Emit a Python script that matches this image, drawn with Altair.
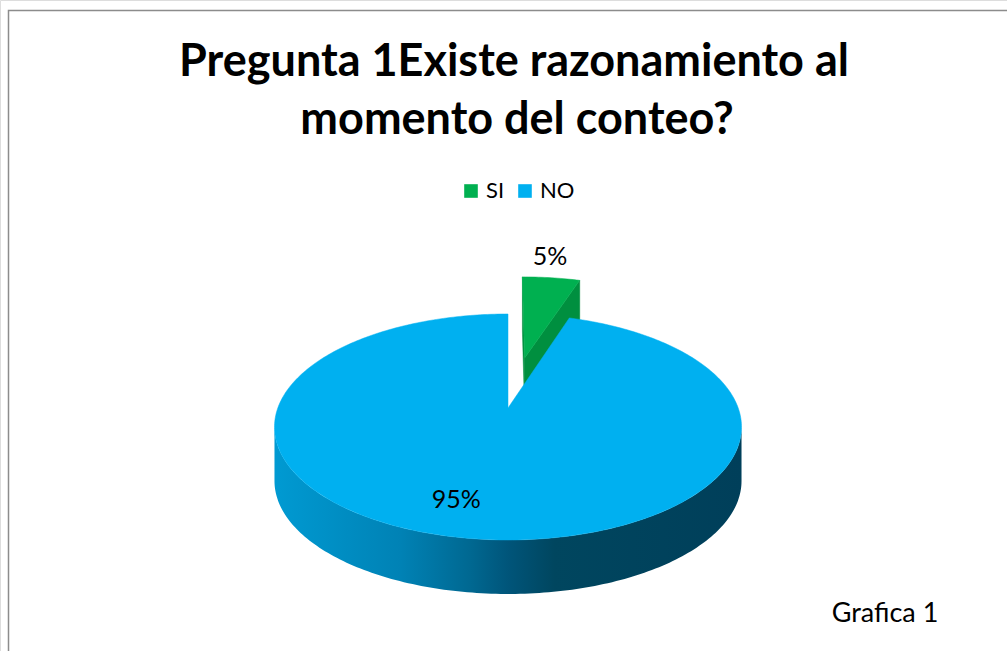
import numpy as np
import pandas as pd
import altair as alt

# ---------------- data ----------------
categories = ["SI", "NO"]
values = [5, 95]
labels = ["5%", "95%"]
top_colors = ["#00B050", "#00B0F0"]
cut_colors = ["#008F3F", "#0088C0"]
explode = [0.5, 0.0]
label_radius = [1.3, 0.76]
label_shift = [-2.0, 6.0]

title_lines = ["Pregunta 1Existe razonamiento al", "momento del conteo?"]
caption = "Grafica 1"

# ---------------- layout ----------------
W, H = 1007, 651
CX, CY = 508, 408          # pie centre in the picture
A, B = 230.2, 109.8        # px per unit (x / y)
K = 0.168                  # perspective strength
DEPTH = 54 / B             # pie thickness in y units
FONT = "Lato"


def proj(u, v):
    w = 1 + K * v
    return u / w, v / w


total = float(sum(values))
starts = np.concatenate([[0.0], np.cumsum(values)[:-1]]) / total * 360.0
ends = np.cumsum(values) / total * 360.0
cam = np.array([0.0, -1.0 / K])
vis_lo = 90 + np.degrees(np.arcsin(K))
vis_hi = 270 - np.degrees(np.arcsin(K))

top_rows, cut_rows, rim_rows, lab_rows = [], [], [], []
for cat, s, e, ex, tc, cc, lab, lr, ls in zip(categories, starts, ends, explode,
                                                top_colors, cut_colors, labels,
                                                label_radius, label_shift):
    mid = np.radians((s + e) / 2)
    ou, ov = ex * np.sin(mid), ex * np.cos(mid)
    # top face
    n = max(int(round(e - s)), 2)
    pts = [(ou, ov)] + [(ou + np.sin(np.radians(t)), ov + np.cos(np.radians(t)))
                        for t in np.linspace(s, e, n + 1)] + [(ou, ov)]
    for i, (u, v) in enumerate(pts):
        px, py = proj(u, v)
        top_rows.append(dict(cat=cat, i=i, px=px, py=py))
    # cut faces
    for ang, sign in ((s, -1), (e, 1)):
        r = np.radians(ang)
        nrm = sign * np.array([np.cos(r), -np.sin(r)])
        if np.dot(cam - np.array([ou, ov]), nrm) > 1e-6:
            face = f"{cat}-{ang:.0f}"
            rx, ry = proj(ou + np.sin(r), ov + np.cos(r))
            vx, vy = proj(ou, ov)
            poly = [(vx, vy), (rx, ry), (rx, ry - DEPTH), (vx, vy - DEPTH), (vx, vy)]
            for i, (px, py) in enumerate(poly):
                cut_rows.append(dict(face=face, col=cc, i=i, px=px, py=py))
    # outer rim (visible part)
    lo, hi = max(s, vis_lo), min(e, vis_hi)
    if hi > lo:
        ang = np.linspace(lo, hi, int(hi - lo) + 2)
        top = [proj(ou + np.sin(np.radians(t)), ov + np.cos(np.radians(t))) for t in ang]
        poly = top + [(x, y - DEPTH) for x, y in reversed(top)] + [top[0]]
        for i, (px, py) in enumerate(poly):
            rim_rows.append(dict(face=cat, i=i, px=px, py=py))
    # label
    la = np.radians((s + e) / 2 + ls)
    lx, ly = proj(ou + lr * np.sin(la), ov + lr * np.cos(la))
    lab_rows.append(dict(label=lab, lx=lx, ly=ly))

top_df = pd.DataFrame(top_rows)
cut_df = pd.DataFrame(cut_rows)
rim_df = pd.DataFrame(rim_rows)
lab_df = pd.DataFrame(lab_rows)

xs = alt.Scale(domain=[-CX / A, (W - CX) / A], nice=False, zero=False)
ys = alt.Scale(domain=[(CY - H) / B, CY / B], nice=False, zero=False)
X = alt.X("px:Q", scale=xs, axis=None)
Y = alt.Y("py:Q", scale=ys, axis=None)

frame = alt.Chart(pd.DataFrame({"a": [0]})).mark_rect(
    fill="white", stroke="#8C8C8C", strokeWidth=1.5
).encode(x=alt.value(8.5), x2=alt.value(1015), y=alt.value(10.5), y2=alt.value(665))

cuts = alt.Chart(cut_df).mark_line(strokeWidth=0.5).encode(
    x=X, y=Y, order=alt.Order("i:Q"), detail="face:N",
    fill=alt.Fill("col:N", scale=None), stroke=alt.Stroke("col:N", scale=None),
)

side_gradient = alt.Gradient(
    gradient="linear", x1=0, x2=1, y1=0, y2=0,
    stops=[
        alt.GradientStop(color="#009AD2", offset=0),
        alt.GradientStop(color="#0082B5", offset=0.27),
        alt.GradientStop(color="#006891", offset=0.42),
        alt.GradientStop(color="#00557A", offset=0.5),
        alt.GradientStop(color="#00465F", offset=0.6),
        alt.GradientStop(color="#003F5A", offset=1),
    ],
)
rims = alt.Chart(rim_df).mark_line(fill=side_gradient, strokeWidth=0).encode(
    x=X, y=Y, order=alt.Order("i:Q"), detail="face:N"
)

tops = alt.Chart(top_df).mark_line(strokeWidth=0.5).encode(
    x=X, y=Y, order=alt.Order("i:Q"),
    fill=alt.Fill("cat:N", scale=alt.Scale(domain=categories, range=top_colors),
                  legend=alt.Legend(title=None, orient="none", legendX=460, legendY=180,
                                    direction="horizontal", symbolType="square",
                                    symbolSize=185, symbolStrokeWidth=0,
                                    labelFont=FONT, labelFontSize=22, labelColor="black",
                                    labelOffset=4, columnPadding=9)),
    stroke=alt.Stroke("cat:N", scale=alt.Scale(domain=categories, range=top_colors), legend=None),
)

pct = alt.Chart(lab_df).mark_text(font=FONT, fontSize=25, color="black", baseline="middle").encode(
    x=alt.X("lx:Q", scale=xs, axis=None), y=alt.Y("ly:Q", scale=ys, axis=None), text="label:N"
)

t1 = alt.Chart(pd.DataFrame({"t": [title_lines[0]]})).mark_text(
    font=FONT, fontSize=45, fontWeight="bold", color="black", baseline="alphabetic"
).encode(text="t:N", x=alt.value(514), y=alt.value(76))
t2 = alt.Chart(pd.DataFrame({"t": [title_lines[1]]})).mark_text(
    font=FONT, fontSize=45, fontWeight="bold", color="black", baseline="alphabetic"
).encode(text="t:N", x=alt.value(517), y=alt.value(134))
cap = alt.Chart(pd.DataFrame({"t": [caption]})).mark_text(
    font=FONT, fontSize=27, color="black", baseline="alphabetic"
).encode(text="t:N", x=alt.value(885), y=alt.value(622))

chart = alt.layer(frame, cuts, rims, tops, pct, t1, t2, cap).properties(
    width=W, height=H, padding=0, autosize=alt.AutoSizeParams(type="none")
).configure_view(stroke=None).configure(background="white")

chart.save("out.html", embed_options={"renderer": "svg", "actions": False})
